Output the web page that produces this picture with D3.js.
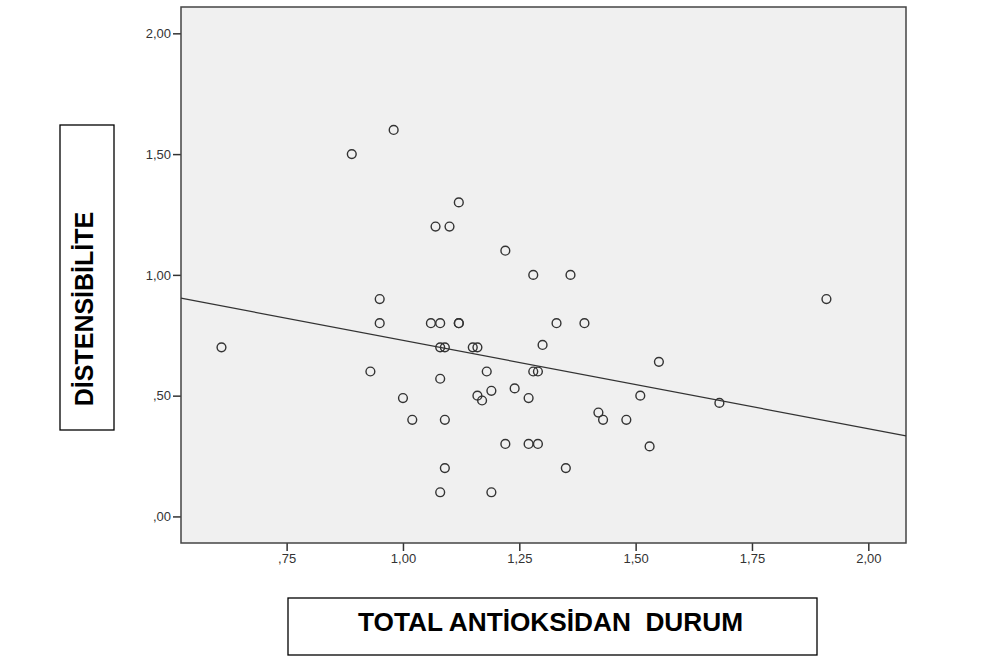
<!DOCTYPE html>
<html>
<head>
<meta charset="utf-8">
<script src="https://cdn.jsdelivr.net/npm/d3@7"></script>
<style>
  body { margin: 0; background: #fff; }
  svg { display: block; font-family: Arial, "Liberation Sans", sans-serif; }
</style>
</head>
<body>
<div id="chart"></div>
<script>
// antioxidant status (x) vs distensibility (y)
const toxValues = [0.89, 0.98, 1.12, 1.07, 1.10, 1.22, 0.95, 0.95, 1.06, 1.08, 1.12, 1.12,
  1.28, 1.36, 1.91, 1.33, 1.39, 0.61, 0.93, 1.08, 1.09, 1.15, 1.16, 1.08, 1.00, 1.18,
  1.16, 1.17, 1.19, 1.24, 1.02, 1.09, 1.22, 1.09, 1.08, 1.19, 1.30, 1.28, 1.29, 1.27,
  1.55, 1.51, 1.68, 1.42, 1.43, 1.48, 1.27, 1.29, 1.53, 1.35];
const distValues = [1.50, 1.60, 1.30, 1.20, 1.20, 1.10, 0.90, 0.80, 0.80, 0.80, 0.80, 0.80,
  1.00, 1.00, 0.90, 0.80, 0.80, 0.70, 0.60, 0.70, 0.70, 0.70, 0.70, 0.57, 0.49, 0.60,
  0.50, 0.48, 0.52, 0.53, 0.40, 0.40, 0.30, 0.20, 0.10, 0.10, 0.71, 0.60, 0.60, 0.49,
  0.64, 0.50, 0.47, 0.43, 0.40, 0.40, 0.30, 0.30, 0.29, 0.20];

// fit line y = a + b*x
const fitIntercept = 1.095;
const fitSlope = -0.366;

const xTicks = [0.75, 1.00, 1.25, 1.50, 1.75, 2.00];
const xTickLabels = [",75", "1,00", "1,25", "1,50", "1,75", "2,00"];
const yTicks = [0.00, 0.50, 1.00, 1.50, 2.00];
const yTickLabels = [",00", ",50", "1,00", "1,50", "2,00"];

const xTitle = "TOTAL ANTİOKSİDAN  DURUM";
const yTitle = "DİSTENSİBİLİTE";

const W = 981, H = 657;
const plot = {left: 181, top: 7, right: 906, bottom: 543};

const svg = d3.select("#chart").append("svg")
  .attr("width", W).attr("height", H);

const x = d3.scaleLinear().domain([0.523, 2.081]).range([plot.left, plot.right]);
const y = d3.scaleLinear().domain([-0.11, 2.109]).range([plot.bottom, plot.top]);

svg.append("rect")
  .attr("x", plot.left).attr("y", plot.top)
  .attr("width", plot.right - plot.left).attr("height", plot.bottom - plot.top)
  .attr("fill", "#f0f0f0");

// axes
const xAxis = d3.axisBottom(x).tickValues(xTicks).tickSize(8).tickPadding(3)
  .tickFormat((d, i) => xTickLabels[i]);
const yAxis = d3.axisLeft(y).tickValues(yTicks).tickSize(8).tickPadding(2)
  .tickFormat((d, i) => yTickLabels[i]);

const gx = svg.append("g").attr("transform", `translate(0,${plot.bottom})`).call(xAxis);
const gy = svg.append("g").attr("transform", `translate(${plot.left},0)`).call(yAxis);
[gx, gy].forEach(g => {
  g.select(".domain").remove();
  g.selectAll(".tick line").attr("stroke", "#333").attr("stroke-width", 1.5);
  g.selectAll(".tick text").attr("fill", "#333").style("font-size", "13px")
    .style("font-family", "Arial, 'Liberation Sans', sans-serif");
});

// frame
svg.append("rect")
  .attr("x", plot.left).attr("y", plot.top)
  .attr("width", plot.right - plot.left).attr("height", plot.bottom - plot.top)
  .attr("fill", "none").attr("stroke", "#444").attr("stroke-width", 1.5);

// regression line
const xd = x.domain();
svg.append("line")
  .attr("x1", x(xd[0])).attr("y1", y(fitIntercept + fitSlope * xd[0]))
  .attr("x2", x(xd[1])).attr("y2", y(fitIntercept + fitSlope * xd[1]))
  .attr("stroke", "#333").attr("stroke-width", 1.3);

// points
svg.selectAll("circle.pt")
  .data(d3.range(toxValues.length))
  .enter().append("circle")
  .attr("class", "pt")
  .attr("cx", i => x(toxValues[i]))
  .attr("cy", i => y(distValues[i]))
  .attr("r", 4.4)
  .attr("fill", "none")
  .attr("stroke", "#333")
  .attr("stroke-width", 1.4);

// y title box
svg.append("rect")
  .attr("x", 60).attr("y", 125).attr("width", 54).attr("height", 305)
  .attr("fill", "#fff").attr("stroke", "#000").attr("stroke-width", 1.3);
svg.append("text")
  .attr("transform", "translate(93,309) rotate(-90)")
  .attr("text-anchor", "middle")
  .style("font-size", "25px").style("font-weight", "bold")
  .text(yTitle);

// x title box
svg.append("rect")
  .attr("x", 288).attr("y", 598).attr("width", 529).attr("height", 57)
  .attr("fill", "#fff").attr("stroke", "#000").attr("stroke-width", 1.3);
svg.append("text")
  .attr("x", 358).attr("y", 631)
  .attr("textLength", 385).attr("lengthAdjust", "spacingAndGlyphs")
  .style("white-space", "pre")
  .style("font-size", "26px").style("font-weight", "bold")
  .text(xTitle);
</script>
</body>
</html>
